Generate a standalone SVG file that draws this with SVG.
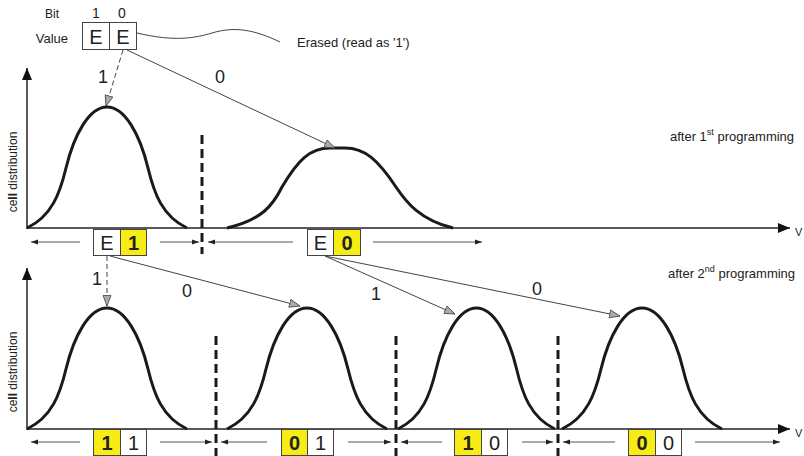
<svg xmlns="http://www.w3.org/2000/svg" width="804" height="456" viewBox="0 0 804 456">
<style>
text{font-family:"Liberation Sans",Arial,sans-serif;fill:#222}
.curve{fill:none;stroke:#1a1a1a;stroke-width:3}
.axis{fill:none;stroke:#222;stroke-width:1.5}
.div{fill:none;stroke:#1a1a1a;stroke-width:3;stroke-dasharray:9,5}
.conn{fill:none;stroke:#444;stroke-width:1}
.dconn{fill:none;stroke:#444;stroke-width:1;stroke-dasharray:5,3}
.rng{fill:none;stroke:#555;stroke-width:1}
.box{fill:#fff;stroke:#444;stroke-width:1}
.ybox{fill:#f7ec13;stroke:#444;stroke-width:1}
.bt{font-size:20px;text-anchor:middle}
.btb{font-size:20px;text-anchor:middle;font-weight:bold}
.lbl{font-size:18px;text-anchor:middle}
.sm{font-size:12px}
.prog{font-size:13px}
</style>
<defs>
<marker id="ax" markerUnits="userSpaceOnUse" markerWidth="14" markerHeight="10" refX="12" refY="5" orient="auto"><path d="M0,0 L12,5 L0,10 Z" fill="#111"/></marker>
<marker id="sa" markerUnits="userSpaceOnUse" markerWidth="8" markerHeight="6" refX="7" refY="3" orient="auto"><path d="M0,0.5 L7,3 L0,5.5 Z" fill="#222"/></marker>
<marker id="op" markerUnits="userSpaceOnUse" markerWidth="14" markerHeight="10" refX="11" refY="4.5" orient="auto"><path d="M0.5,0.5 L11,4.5 L0.5,8.5 Z" fill="#aaa" stroke="#444" stroke-width="0.8"/></marker>
<path id="bell" d="M0,0 C25,-12 33,-35 39,-60 C47,-93 62,-121 80,-121 C98,-121 113,-93 121,-60 C127,-35 135,-12 160,0"/>
</defs>

<g id="legend">
<text class="sm" x="52" y="18" text-anchor="middle">Bit</text>
<text x="96" y="18" font-size="14" text-anchor="middle">1</text>
<text x="122" y="18" font-size="14" text-anchor="middle">0</text>
<text x="68" y="43" font-size="13" text-anchor="end">Value</text>
<rect class="box" x="82.5" y="22.5" width="27" height="27"/>
<rect class="box" x="109.5" y="22.5" width="27" height="27"/>
<text class="bt" x="96" y="44" font-size="21">E</text>
<text class="bt" x="123" y="44" font-size="21">E</text>
<path class="conn" d="M137,33 C175,42 195,38 212,33 C235,26 255,30 280,42"/>
<text x="297" y="47" font-size="13">Erased (read as '1')</text>
</g>

<g id="top-axes">
<line class="axis" x1="27" y1="229" x2="27" y2="68" marker-end="url(#ax)"/>
<line class="axis" x1="27" y1="228" x2="790" y2="228" marker-end="url(#ax)"/>
<text class="sm" transform="translate(17,172) rotate(-90)" text-anchor="middle">ce<tspan font-weight="bold">ll</tspan> distribution</text>
<text x="795" y="236" font-size="11">V</text>
<text class="prog" x="670" y="141">after 1<tspan font-size="9" dy="-6">st</tspan><tspan dy="6"> programming</tspan></text>
</g>

<g id="top-curve-1"><use href="#bell" class="curve" transform="translate(27,228)"/></g>
<g id="top-curve-0"><path class="curve" d="M227,228 C262,220 273,205 282,187 C298,160 310,148 330,148 L345,148 C365,148 378,160 396,187 C406,202 420,220 453,228"/></g>
<g id="top-divider"><line class="div" x1="202" y1="135" x2="202" y2="254"/></g>

<g id="top-row">
<line class="rng" x1="80" y1="242" x2="31" y2="242" marker-end="url(#sa)"/>
<rect class="box" x="93.5" y="229.5" width="27" height="26"/>
<rect class="ybox" x="120.5" y="229.5" width="26" height="26"/>
<text class="bt" x="107" y="250">E</text>
<text class="btb" x="133.5" y="250">1</text>
<line class="rng" x1="160" y1="242" x2="199" y2="242" marker-end="url(#sa)"/>
<line class="rng" x1="293" y1="242" x2="208" y2="242" marker-end="url(#sa)"/>
<rect class="box" x="307.5" y="229.5" width="26" height="26"/>
<rect class="ybox" x="333.5" y="229.5" width="27" height="26"/>
<text class="bt" x="320.5" y="250">E</text>
<text class="btb" x="347" y="250">0</text>
<line class="rng" x1="373" y1="242" x2="482" y2="242" marker-end="url(#sa)"/>
</g>

<g id="bottom-axes">
<line class="axis" x1="27" y1="430" x2="27" y2="268" marker-end="url(#ax)"/>
<line class="axis" x1="27" y1="429" x2="790" y2="429" marker-end="url(#ax)"/>
<text class="sm" transform="translate(17,372) rotate(-90)" text-anchor="middle">ce<tspan font-weight="bold">ll</tspan> distribution</text>
<text x="795" y="437" font-size="11">V</text>
<text class="prog" x="668" y="278">after 2<tspan font-size="9" dy="-6">nd</tspan><tspan dy="6"> programming</tspan></text>
</g>

<g id="curve-11"><use href="#bell" class="curve" transform="translate(27,429)"/></g>
<g id="curve-01"><use href="#bell" class="curve" transform="translate(227,429)"/></g>
<g id="curve-10"><use href="#bell" class="curve" transform="translate(398,429) scale(0.98,1)"/></g>
<g id="curve-00"><use href="#bell" class="curve" transform="translate(562,429)"/></g>
<g id="bottom-dividers">
<line class="div" x1="216" y1="336" x2="216" y2="456"/>
<line class="div" x1="396" y1="336" x2="396" y2="456"/>
<line class="div" x1="558" y1="336" x2="558" y2="456"/>
</g>

<g id="bottom-row">
<line class="rng" x1="80" y1="442" x2="31" y2="442" marker-end="url(#sa)"/>
<rect class="ybox" x="93.5" y="429.5" width="27" height="26"/>
<rect class="box" x="120.5" y="429.5" width="26" height="26"/>
<text class="btb" x="107" y="450">1</text>
<text class="bt" x="133.5" y="450">1</text>
<line class="rng" x1="160" y1="442" x2="212" y2="442" marker-end="url(#sa)"/>
<line class="rng" x1="267" y1="442" x2="221" y2="442" marker-end="url(#sa)"/>
<rect class="ybox" x="281.5" y="429.5" width="26" height="26"/>
<rect class="box" x="307.5" y="429.5" width="26" height="26"/>
<text class="btb" x="294.5" y="450">0</text>
<text class="bt" x="320.5" y="450">1</text>
<line class="rng" x1="348" y1="442" x2="391" y2="442" marker-end="url(#sa)"/>
<line class="rng" x1="442" y1="442" x2="401" y2="442" marker-end="url(#sa)"/>
<rect class="ybox" x="454.5" y="429.5" width="27" height="26"/>
<rect class="box" x="481.5" y="429.5" width="26" height="26"/>
<text class="btb" x="468" y="450">1</text>
<text class="bt" x="494.5" y="450">0</text>
<line class="rng" x1="522" y1="442" x2="553" y2="442" marker-end="url(#sa)"/>
<line class="rng" x1="615" y1="442" x2="563" y2="442" marker-end="url(#sa)"/>
<rect class="ybox" x="628.5" y="429.5" width="27" height="26"/>
<rect class="box" x="655.5" y="429.5" width="26" height="26"/>
<text class="btb" x="642" y="450">0</text>
<text class="bt" x="668.5" y="450">0</text>
<line class="rng" x1="695" y1="442" x2="780" y2="442" marker-end="url(#sa)"/>
</g>

<g id="connectors">
<line class="dconn" x1="123" y1="50" x2="106" y2="106" marker-end="url(#op)"/>
<line class="conn" x1="127" y1="50" x2="335" y2="148" marker-end="url(#op)"/>
<line class="dconn" x1="107" y1="256" x2="107" y2="306" marker-end="url(#op)"/>
<line class="conn" x1="110" y1="256" x2="300" y2="306" marker-end="url(#op)"/>
<line class="conn" x1="325" y1="256" x2="455" y2="314" marker-end="url(#op)"/>
<line class="conn" x1="325" y1="256" x2="620" y2="316" marker-end="url(#op)"/>
<text class="lbl" x="103" y="83">1</text>
<text class="lbl" x="220" y="83">0</text>
<text class="lbl" x="97" y="285">1</text>
<text class="lbl" x="187" y="297">0</text>
<text class="lbl" x="376" y="300">1</text>
<text class="lbl" x="537" y="295">0</text>
</g>
</svg>
